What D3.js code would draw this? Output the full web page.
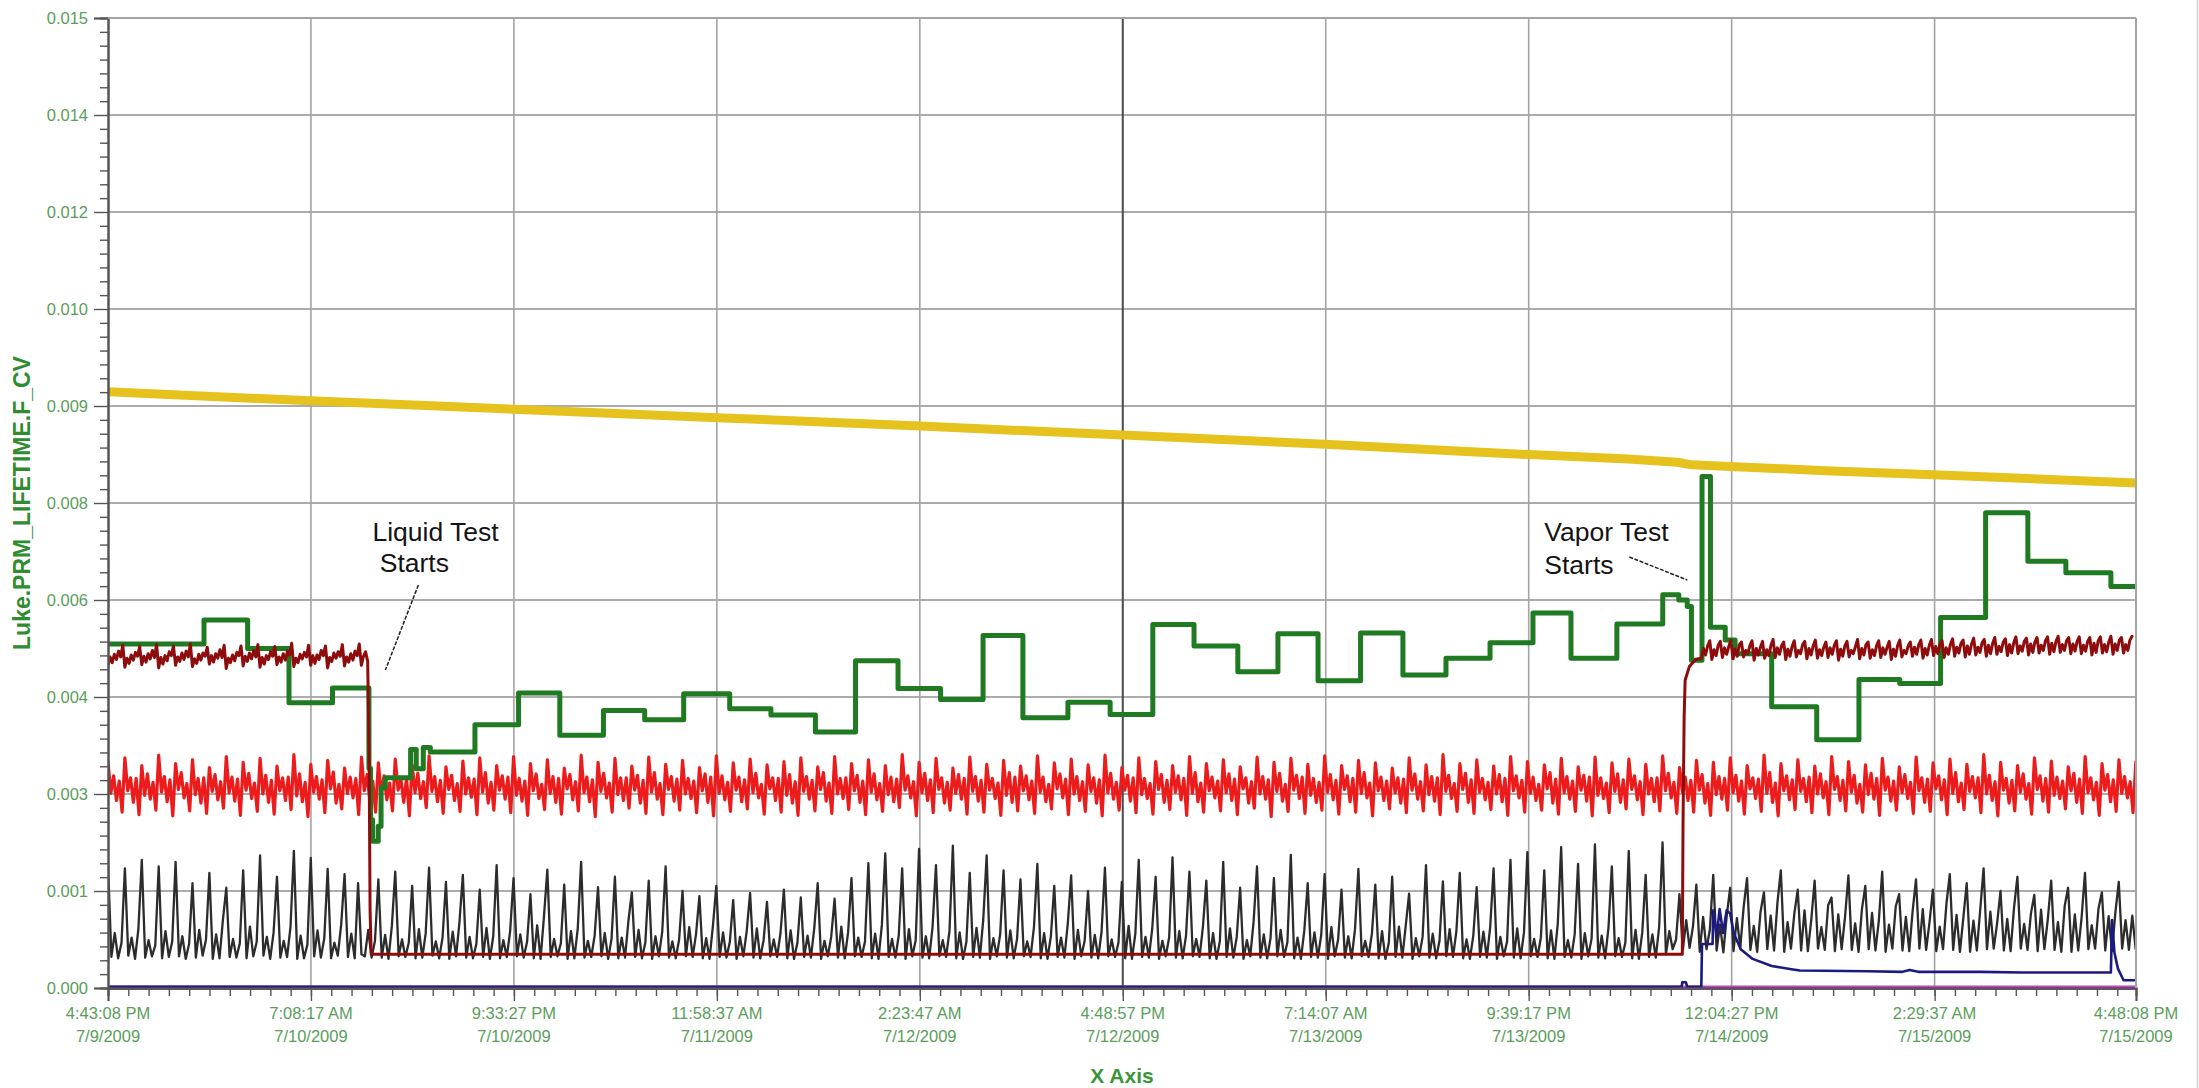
<!DOCTYPE html>
<html><head><meta charset="utf-8">
<script src="https://cdn.jsdelivr.net/npm/d3@7"></script>
<style>
body{margin:0;background:#fff}
svg{display:block}
text{font-family:"Liberation Sans",Arial,sans-serif}
</style>
</head><body>
<svg id="chart" width="2199" height="1088"></svg>
<script>
// ---------------- data ----------------
const START_TIME = "2009-07-09 16:43:08";
const END_TIME   = "2009-07-15 16:48:08";

const xTickTimes = ["2009-07-09 16:43:08","2009-07-10 07:08:17","2009-07-10 21:33:27","2009-07-11 11:58:37",
  "2009-07-12 02:23:47","2009-07-12 16:48:57","2009-07-13 07:14:07","2009-07-13 21:39:17",
  "2009-07-14 12:04:27","2009-07-15 02:29:37","2009-07-15 16:48:08"];
const xTickLabelTime = ["4:43:08 PM","7:08:17 AM","9:33:27 PM","11:58:37 AM","2:23:47 AM","4:48:57 PM",
  "7:14:07 AM","9:39:17 PM","12:04:27 PM","2:29:37 AM","4:48:08 PM"];
const xTickLabelDate = ["7/9/2009","7/10/2009","7/10/2009","7/11/2009","7/12/2009","7/12/2009",
  "7/13/2009","7/13/2009","7/14/2009","7/15/2009","7/15/2009"];

const yTickValues = [0,0.0015,0.003,0.0045,0.006,0.0075,0.009,0.0105,0.012,0.0135,0.015];
const yTickLabels = ["0.000","0.001","0.003","0.004","0.006","0.008","0.009","0.010","0.012","0.014","0.015"];

const yAxisTitle = "Luke.PRM_LIFETIME.F_CV";
const xAxisTitle = "X Axis";

// series: times as hours since START_TIME, values in units of 1e-3
const VALUE_UNIT = 1e-3;

const yellowHours = [0,14.4,28.8,43.3,57.7,72.1,86.5,97.9,108.0,111.5,112.5,122.0,130.6,144.083];
const yellowVals  = [9.22,9.08,8.95,8.82,8.69,8.55,8.41,8.28,8.18,8.13,8.09,8.00,7.93,7.81];

const greenHours = [0,6.82,9.92,12.86,15.95,18.54,18.65,18.8,19.2,19.4,19.7,21.5,21.9,22.4,22.9,26.07,29.17,32.10,35.2,38.13,
  40.9,44.17,47.1,50.26,53.11,56.13,59.15,62.17,65.0,68.2,71.2,74.23,77.16,80.27,83.12,85.97,88.99,92.0,95.06,98.19,
  101.24,103.94,107.2,110.46,111.6,112.2,112.5,113.25,113.85,114.9,115.6,118.2,121.4,124.4,127.3,130.2,133.4,136.4,139.1,142.3,144.083];
const greenVals = [5.32,5.69,5.25,4.41,4.64,3.40,2.60,2.27,2.50,3.10,3.25,3.69,3.39,3.72,3.65,4.07,4.56,3.91,4.29,4.15,
  4.55,4.32,4.22,3.96,5.06,4.63,4.46,5.45,4.18,4.42,4.23,5.62,5.29,4.89,5.48,4.75,5.49,4.84,5.10,5.34,
  5.80,5.10,5.63,6.08,6.00,5.90,5.07,7.91,5.58,5.38,5.17,4.35,3.84,4.77,4.71,5.73,7.35,6.60,6.42,6.21,6.21];

const redStepHours = 0.2001;
const redVals = [
3.50,3.01,3.28,2.90,3.20,2.72,3.56,3.05,3.25,2.87,3.24,2.68,3.44,2.98,3.31,2.92,3.18,2.75,3.60,3.03,3.27,2.88,3.22,2.66,
3.47,3.07,3.33,2.94,3.16,2.74,3.53,2.99,3.24,2.86,3.25,2.70,3.41,3.04,3.30,2.91,3.19,2.78,3.58,3.02,3.26,2.89,3.23,2.67,
3.49,3.06,3.32,2.93,3.17,2.73,3.55,3.00,3.29,2.87,3.21,2.69,3.43,3.05,3.25,2.90,3.26,2.76,3.61,2.97,3.31,2.88,3.18,2.65,
3.46,3.03,3.27,2.92,3.22,2.71,3.52,3.08,3.34,2.86,3.15,2.77,3.40,3.01,3.26,2.94,3.24,2.68,3.57,3.05,3.30,2.89,3.20,2.72,
3.48,2.99,3.28,2.91,3.17,2.74,3.54,3.06,3.23,2.87,3.25,2.66,3.45,3.02,3.32,2.93,3.19,2.79,3.59,3.04,3.27,2.88,3.21,2.70,
3.42,3.07,3.29,2.90,3.16,2.73,3.51,3.00,3.25,2.95,3.23,2.68,3.56,3.03,3.33,2.86,3.18,2.75,3.44,3.06,3.28,2.92,3.26,2.71,
3.58,2.98,3.24,2.89,3.20,2.67,3.47,3.05,3.31,2.93,3.15,2.76,3.53,3.01,3.27,2.87,3.24,2.69,3.40,3.08,3.30,2.91,3.19,2.74,
3.60,3.02,3.26,2.88,3.22,2.65,3.49,3.04,3.32,2.94,3.17,2.72,3.55,2.99,3.25,2.90,3.25,2.78,3.43,3.06,3.29,2.86,3.21,2.70,
3.57,3.03,3.33,2.92,3.16,2.68,3.46,3.07,3.27,2.89,3.23,2.75,3.52,3.00,3.24,2.93,3.20,2.71,3.41,3.05,3.31,2.87,3.26,2.66,
3.59,3.01,3.28,2.91,3.18,2.73,3.48,3.06,3.26,2.88,3.22,2.77,3.54,3.02,3.32,2.94,3.15,2.69,3.45,3.08,3.25,2.90,3.24,2.72,
3.50,2.98,3.30,2.86,3.19,2.67,3.56,3.04,3.27,2.92,3.21,2.74,3.42,3.07,3.33,2.89,3.17,2.70,3.58,3.00,3.24,2.93,3.25,2.76,
3.47,3.05,3.29,2.87,3.20,2.68,3.53,3.03,3.31,2.91,3.16,2.73,3.44,2.99,3.26,2.88,3.23,2.79,3.61,3.06,3.28,2.94,3.19,2.66,
3.49,3.02,3.32,2.90,3.22,2.71,3.55,3.07,3.25,2.86,3.18,2.75,3.40,3.01,3.30,2.92,3.24,2.69,3.57,3.04,3.27,2.89,3.21,2.72,
3.46,3.06,3.24,2.93,3.17,2.67,3.52,2.98,3.33,2.87,3.26,2.74,3.43,3.05,3.28,2.91,3.20,2.70,3.59,3.03,3.26,2.88,3.15,2.77,
3.48,3.08,3.31,2.94,3.23,2.68,3.54,3.00,3.27,2.90,3.19,2.73,3.45,3.04,3.25,2.86,3.22,2.66,3.60,3.02,3.32,2.92,3.18,2.75,
3.41,3.06,3.29,2.89,3.25,2.71,3.56,2.99,3.24,2.93,3.16,2.69,3.50,3.07,3.30,2.87,3.21,2.76,3.44,3.03,3.28,2.91,3.24,2.67,
3.58,3.01,3.33,2.88,3.17,2.72,3.47,3.05,3.26,2.94,3.20,2.74,3.53,3.02,3.31,2.90,3.23,2.68,3.42,3.08,3.25,2.86,3.19,2.78,
3.57,3.00,3.27,2.92,3.22,2.65,3.49,3.04,3.32,2.89,3.15,2.73,3.55,3.06,3.29,2.93,3.26,2.70,3.46,2.98,3.24,2.87,3.18,2.75,
3.59,3.03,3.30,2.91,3.21,2.69,3.44,3.07,3.28,2.88,3.24,2.72,3.52,3.01,3.33,2.94,3.17,2.66,3.48,3.05,3.26,2.90,3.20,2.77,
3.40,3.02,3.25,2.86,3.23,2.71,3.56,3.06,3.31,2.92,3.19,2.74,3.45,2.99,3.27,2.89,3.25,2.68,3.61,3.04,3.29,2.93,3.16,2.73,
3.47,3.07,3.32,2.87,3.22,2.70,3.53,3.03,3.24,2.91,3.18,2.76,3.43,3.00,3.30,2.88,3.24,2.67,3.58,3.05,3.28,2.94,3.21,2.72,
3.50,3.01,3.26,2.90,3.15,2.75,3.45,3.08,3.33,2.86,3.23,2.69,3.55,3.02,3.27,2.92,3.20,2.73,3.42,3.06,3.29,2.89,3.26,2.66,
3.57,2.98,3.25,2.93,3.17,2.71,3.48,3.04,3.31,2.87,3.22,2.77,3.54,3.07,3.28,2.91,3.19,2.68,3.46,3.00,3.24,2.88,3.25,2.74,
3.59,3.05,3.32,2.94,3.18,2.70,3.41,3.03,3.26,2.90,3.21,2.72,3.52,3.06,3.30,2.86,3.16,2.67,3.49,2.99,3.27,2.92,3.24,2.75,
3.56,3.02,3.29,2.89,3.20,2.69,3.44,3.08,3.25,2.93,3.23,2.73,3.60,3.01,3.33,2.87,3.17,2.66,3.47,3.05,3.28,2.91,3.22,2.76,
3.53,3.04,3.24,2.88,3.26,2.71,3.43,3.00,3.31,2.94,3.19,2.68,3.58,3.07,3.27,2.90,3.21,2.74,3.50,3.03,3.29,2.86,3.15,2.72,
3.45,2.99,3.32,2.92,3.24,2.67,3.55,3.06,3.26,2.89,3.20,2.75,3.42,3.02,3.30,2.93,3.18,2.70,3.57,3.05,3.25,2.87,3.23,2.73,
3.48,3.08,3.28,2.91,3.22,2.68,3.54,3.01,3.33,2.88,3.17,2.76,3.46,3.04,3.27,2.94,3.25,2.71,3.61,3.00,3.29,2.90,3.19,2.66,
3.49,3.06,3.24,2.86,3.21,2.74,3.44,3.03,3.31,2.92,3.16,2.69,3.56,3.07,3.28,2.89,3.24,2.72,3.51,2.98,3.26,2.93,3.20,2.77,
3.42,3.05,3.32,2.87,3.23,2.70,3.58,3.02,3.25,2.91,3.18,2.67,3.47,3.06,3.30,2.88,3.22,2.73,3.53,3.01,3.27,2.94,3.19,2.71,
3.50];

const blackStepHours = 0.2401;
const blackVals = [
1.92,0.48,0.85,0.46,0.70,1.85,0.50,0.78,0.45,0.92,1.98,0.47,0.74,0.49,0.66,1.88,0.46,0.88,0.48,0.72,1.95,0.49,0.80,0.45,0.68,1.62,0.47,0.90,0.50,0.75,1.78,0.45,0.83,0.46,1.05,1.55,0.48,0.76,0.47,0.69,
1.82,0.46,0.95,0.49,0.71,2.05,0.50,0.79,0.45,0.86,1.72,0.47,0.73,0.48,0.94,2.12,0.45,0.81,0.46,0.67,2.01,0.49,0.89,0.47,0.77,1.84,0.46,0.70,0.50,0.98,1.76,0.48,0.84,0.46,1.62,0.52,0.49,0.90,0.47,0.73,
1.68,0.47,0.82,0.45,0.96,1.80,0.49,0.75,0.48,0.70,1.58,0.46,0.91,0.47,0.84,1.86,0.50,0.72,0.46,0.78,1.64,0.45,0.87,0.49,1.02,1.75,0.47,0.79,0.46,0.68,1.52,0.48,0.93,0.45,0.80,1.90,0.46,0.74,0.48,0.88,
1.70,0.49,0.83,0.47,0.71,1.45,0.46,0.97,0.45,1.10,1.83,0.48,0.76,0.49,0.69,1.60,0.45,0.88,0.46,0.92,1.95,0.47,0.73,0.48,0.81,1.56,0.49,0.85,0.45,0.76,1.72,0.46,0.78,0.47,1.04,1.48,0.48,0.90,0.46,0.70,
1.66,0.45,0.80,0.49,0.87,1.88,0.47,0.72,0.46,0.75,1.50,0.49,0.94,0.48,0.83,1.42,0.46,0.77,0.45,0.96,1.58,0.48,0.86,0.47,0.71,1.36,0.45,0.79,0.49,0.88,1.47,0.47,0.92,0.46,0.74,1.33,0.49,0.75,0.48,0.85,
1.52,0.46,0.89,0.45,0.70,1.40,0.48,0.81,0.47,0.93,1.62,0.45,0.73,0.49,0.79,1.38,0.47,0.95,0.46,0.86,1.70,0.49,0.78,0.48,0.72,1.93,0.46,0.84,0.45,0.98,2.08,0.48,0.76,0.47,0.82,1.85,0.45,0.91,0.49,0.74,
2.15,0.47,0.80,0.46,0.95,1.90,0.49,0.74,0.48,0.88,2.20,0.46,0.86,0.45,0.71,1.78,0.48,0.93,0.47,1.06,2.05,0.45,0.77,0.49,0.83,1.82,0.47,0.89,0.46,0.76,1.68,0.49,0.72,0.48,0.94,1.92,0.46,0.85,0.45,0.80,
1.58,0.48,0.78,0.47,0.99,1.74,0.45,0.90,0.49,0.73,1.50,0.47,0.82,0.46,0.87,1.86,0.49,0.75,0.48,0.70,1.64,0.46,0.96,0.45,0.84,1.98,0.48,0.79,0.47,0.92,1.72,0.45,0.73,0.49,0.78,2.02,0.47,0.88,0.46,0.81,
1.80,0.49,0.76,0.48,0.95,1.66,0.46,0.85,0.45,0.72,1.95,0.48,0.92,0.47,0.79,1.55,0.45,0.74,0.49,1.03,1.88,0.47,0.83,0.46,0.77,1.70,0.49,0.90,0.48,0.71,2.06,0.46,0.78,0.45,0.89,1.62,0.48,0.86,0.47,0.82,
1.76,0.45,0.94,0.49,0.75,1.52,0.47,0.80,0.46,0.91,1.84,0.49,0.73,0.48,0.84,1.60,0.46,0.88,0.45,0.70,1.72,0.48,0.95,0.47,0.96,1.46,0.45,0.77,0.49,0.79,1.90,0.47,0.84,0.46,0.73,1.65,0.49,0.91,0.48,0.88,
1.78,0.46,0.75,0.45,0.81,1.56,0.48,0.87,0.47,0.94,1.85,0.45,0.79,0.49,0.72,1.98,0.47,0.92,0.46,0.86,2.10,0.49,0.76,0.48,0.78,1.82,0.46,0.89,0.45,1.00,2.18,0.48,0.74,0.47,0.83,1.92,0.45,0.85,0.49,0.76,
2.22,0.47,0.81,0.46,0.93,1.88,0.49,0.77,0.48,0.70,2.12,0.46,0.90,0.45,0.86,1.75,0.48,0.83,0.47,0.95,2.25,0.52,0.88,0.60,0.75,1.45,0.58,1.05,0.62,0.95,1.60,0.56,1.10,0.60,0.90,1.75,0.58,0.98,0.55,1.12,
1.55,0.57,1.08,0.62,1.25,1.70,0.59,0.96,0.56,1.18,1.48,0.60,1.12,0.58,1.32,1.82,0.56,1.02,0.61,1.15,1.52,0.58,1.20,0.57,1.05,1.66,0.61,0.94,0.59,1.28,1.40,0.57,1.14,0.60,1.10,1.74,0.59,1.00,0.56,1.22,
1.58,0.60,1.16,0.58,1.04,1.80,0.56,0.98,0.61,1.26,1.45,0.58,1.10,0.57,1.19,1.68,0.61,1.22,0.59,1.02,1.52,0.57,0.95,0.60,1.30,1.76,0.59,1.13,0.56,1.08,1.62,0.56,1.04,0.58,1.21,1.85,0.60,1.18,0.61,1.00,
1.50,0.58,1.07,0.57,1.24,1.72,0.61,0.99,0.59,1.15,1.44,0.57,1.21,0.60,1.06,1.66,0.59,1.02,0.56,1.27,1.55,0.56,1.14,0.58,1.09,1.78,0.60,0.97,0.61,1.23,1.48,0.58,1.11,0.57,1.17,1.64,0.61,1.05,0.59,1.12,
0.60];

const maroonPreStepHours = 0.15;
const maroonPreVals = [
4.98,5.12,5.03,5.16,5.08,5.21,5.12,5.30,4.96,5.10,5.02,5.15,5.07,5.19,5.13,5.28,5.00,5.13,5.04,5.17,5.09,5.22,5.11,5.31,
4.95,5.11,5.01,5.14,5.06,5.20,5.14,5.29,4.99,5.12,5.05,5.18,5.08,5.21,5.12,5.32,4.97,5.09,5.02,5.16,5.07,5.18,5.13,5.27,
5.01,5.14,5.04,5.17,5.10,5.23,5.11,5.30,4.94,5.10,5.03,5.15,5.06,5.19,5.14,5.29,4.98,5.13,5.05,5.18,5.09,5.22,5.12,5.31,
4.96,5.11,5.01,5.14,5.08,5.20,5.13,5.28,5.00,5.12,5.04,5.17,5.07,5.21,5.15,5.33,4.97,5.10,5.03,5.16,5.09,5.19,5.12,5.30,
4.99,5.14,5.02,5.15,5.08,5.22,5.14,5.29,4.95,5.11,5.05,5.18,5.10,5.20,5.13,5.31,4.98,5.12,5.04,5.17,5.07,5.21,5.14,5.32,
4.99,5.13,5.20];
const maroonLinkHours = [18.45,18.55,18.62,18.7,111.85,111.9,111.98,112.05,112.35,112.8];
const maroonLinkVals  = [5.05,3.60,1.20,0.52,0.52,2.50,4.20,4.76,4.97,5.08];
const maroonPostStartHour = 113.2, maroonPostStepHours = 0.15;
const maroonPostVals = [
5.10,5.25,5.15,5.29,5.37,5.08,5.23,5.14,5.30,5.36,5.11,5.26,5.16,5.28,5.38,5.09,5.24,5.13,5.31,5.35,
5.12,5.22,5.17,5.29,5.37,5.07,5.25,5.15,5.27,5.36,5.10,5.23,5.14,5.30,5.39,5.11,5.26,5.16,5.29,5.35,
5.08,5.24,5.13,5.28,5.37,5.12,5.22,5.17,5.31,5.36,5.09,5.25,5.15,5.29,5.38,5.10,5.23,5.14,5.27,5.35,
5.11,5.26,5.16,5.30,5.37,5.07,5.24,5.13,5.29,5.36,5.12,5.22,5.17,5.28,5.39,5.09,5.25,5.15,5.31,5.35,
5.10,5.23,5.14,5.29,5.37,5.11,5.26,5.16,5.27,5.36,5.08,5.24,5.13,5.30,5.38,5.12,5.22,5.17,5.29,5.35,
5.13,5.27,5.16,5.31,5.38,5.10,5.25,5.15,5.30,5.39,5.14,5.28,5.17,5.32,5.37,5.11,5.26,5.16,5.31,5.40,
5.13,5.27,5.18,5.33,5.38,5.12,5.29,5.16,5.32,5.41,5.15,5.27,5.19,5.34,5.39,5.13,5.30,5.17,5.33,5.42,
5.16,5.28,5.20,5.35,5.40,5.14,5.31,5.18,5.34,5.43,5.17,5.29,5.21,5.36,5.41,5.15,5.32,5.19,5.35,5.42,
5.18,5.30,5.22,5.37,5.43,5.16,5.33,5.20,5.36,5.44,5.19,5.31,5.22,5.37,5.42,5.17,5.32,5.21,5.36,5.43,
5.17,5.30,5.21,5.36,5.42,5.15,5.33,5.19,5.37,5.43,5.18,5.31,5.20,5.35,5.44,5.16,5.32,5.22,5.38,5.42,
5.18,5.31,5.22,5.38,5.44];

const navyHours = [0,111.8,111.85,112.1,112.2,113.2,113.25,114.0,114.05,114.3,114.5,114.75,115.0,115.25,115.5,116.0,116.85,118.2,119.6,120.2,
  125.0,127.5,128.0,128.6,133.0,136.0,142.3,142.38,142.55,142.8,143.2,144.083];
const navyVals = [0.02,0.02,0.09,0.09,0.02,0.02,0.68,0.68,1.20,0.80,1.22,0.85,1.20,1.15,0.85,0.60,0.45,0.34,0.29,0.27,
  0.26,0.25,0.28,0.25,0.25,0.24,0.24,1.05,0.55,0.30,0.12,0.12];

const magentaHours = [0,144.083];
const magentaVals  = [0,0];

const liquidTestHour = 18.5, vaporTestHour = 111.85;
const annotations = [
  {hour: liquidTestHour, lines: ["Liquid Test", " Starts"]},
  {hour: vaporTestHour,  lines: ["Vapor Test", "Starts"]}
];

// ---------------- drawing ----------------
const W = 2199, H = 1088;
const M = {left:108, right:2136, top:18, bottom:988};
const parse = d3.timeParse("%Y-%m-%d %H:%M:%S");
const t0 = parse(START_TIME), t1 = parse(END_TIME);
const toDate = h => new Date(t0.getTime() + h*3600000);

const x = d3.scaleTime().domain([t0,t1]).range([M.left,M.right]);
const y = d3.scaleLinear().domain([0,0.015]).range([M.bottom,M.top]);

const svg = d3.select("#chart");
svg.append("rect").attr("width",W).attr("height",H).attr("fill","#fff");

const xt = xTickTimes.map(parse);

// gridlines
const grid = svg.append("g");
grid.selectAll("line.h").data(yTickValues.slice(1)).join("line")
  .attr("x1",M.left).attr("x2",M.right).attr("y1",d=>y(d)).attr("y2",d=>y(d))
  .attr("stroke","#acacac").attr("stroke-width",2);
grid.selectAll("line.v").data(xt.slice(1)).join("line")
  .attr("x1",d=>x(d)).attr("x2",d=>x(d)).attr("y1",M.top).attr("y2",M.bottom)
  .attr("stroke",(d,i)=> i===4 ? "#4a4a4a" : "#a4a4a4")
  .attr("stroke-width",(d,i)=> i===4 ? 2 : 1.6);
// right border of screenshot
svg.append("line").attr("x1",W-1.5).attr("x2",W-1.5).attr("y1",0).attr("y2",H)
  .attr("stroke","#cfcfcf").attr("stroke-width",1.5);

// series
svg.append("clipPath").attr("id","clip").append("rect")
  .attr("x",M.left).attr("y",M.top-6).attr("width",M.right-M.left).attr("height",M.bottom-M.top+8);
const plot = svg.append("g").attr("clip-path","url(#clip)");

const pts = (hours, vals) => hours.map((h,i)=>({t:toDate(h), v:vals[i]*VALUE_UNIT}));
const uni = (start, step, vals) => vals.map((v,i)=>({t:toDate(start+i*step), v:v*VALUE_UNIT}));

const line = d3.line().x(d=>x(d.t)).y(d=>y(d.v));
const stepLine = d3.line().x(d=>x(d.t)).y(d=>y(d.v)).curve(d3.curveStepAfter);

const redData = uni(0, redStepHours, redVals);
const blackData = uni(0, blackStepHours, blackVals);
const yellowData = pts(yellowHours, yellowVals);
const greenData = pts(greenHours, greenVals);
const maroonData = uni(0, maroonPreStepHours, maroonPreVals)
  .concat(pts(maroonLinkHours, maroonLinkVals))
  .concat(uni(maroonPostStartHour, maroonPostStepHours, maroonPostVals));
const navyData = pts(navyHours, navyVals);
const magentaData = pts(magentaHours, magentaVals);

function draw(data, gen, color, width){
  plot.append("path").datum(data).attr("d",gen).attr("fill","none")
    .attr("stroke",color).attr("stroke-width",width)
    .attr("stroke-linejoin","round").attr("stroke-linecap","round");
}
draw(redData, line, "#ec1c1c", 3.2);
draw(blackData, line, "#2c2c2c", 2.3);
draw(yellowData, line, "#e6c21f", 9);
draw(greenData, stepLine, "#1f7a22", 5);
draw(maroonData, line, "#8e0c0c", 3);
draw(magentaData, line, "#c63fc6", 5);
draw(navyData, line, "#1a1a80", 2.6);

// axes
const axisColor = "#555";
const yMinor = d3.range(0,71).filter(k=>k%7!==0).map(k=>k*0.0015/7);
const yAxisMinor = svg.append("g").attr("transform",`translate(${M.left},0)`)
  .call(d3.axisLeft(y).tickValues(yMinor).tickSize(8).tickFormat(""));
const yAxis = svg.append("g").attr("transform",`translate(${M.left},0)`)
  .call(d3.axisLeft(y).tickValues(yTickValues).tickSize(14).tickPadding(6).tickFormat((d,i)=>yTickLabels[i]));

const interval = (xt[9]-xt[1])/8;
const xMinor = [];
for (let k=0; xt[0].getTime()+k*interval/10 <= t1.getTime()+1000; k++) xMinor.push(new Date(xt[0].getTime()+k*interval/10));
const xAxisMinor = svg.append("g").attr("transform",`translate(0,${M.bottom})`)
  .call(d3.axisBottom(x).tickValues(xMinor).tickSize(8).tickFormat(""));
const xAxis = svg.append("g").attr("transform",`translate(0,${M.bottom})`)
  .call(d3.axisBottom(x).tickValues(xt).tickSize(13).tickFormat(""));

[yAxisMinor,yAxis,xAxisMinor,xAxis].forEach(g=>{
  g.select(".domain").attr("stroke",axisColor).attr("stroke-width",2);
  g.selectAll(".tick line").attr("stroke",axisColor).attr("stroke-width",1.4);
});
yAxis.selectAll(".tick text").attr("fill","#5a9e5a").attr("font-size","16.5px")
  .attr("font-family","'Liberation Sans',Arial,sans-serif");

// top and right border
svg.append("line").attr("x1",M.left).attr("x2",M.right).attr("y1",M.top).attr("y2",M.top)
  .attr("stroke","#a4a4a4").attr("stroke-width",2);
svg.append("line").attr("x1",M.right).attr("x2",M.right).attr("y1",M.top).attr("y2",M.bottom)
  .attr("stroke","#a4a4a4").attr("stroke-width",2);

// x tick labels (two lines)
const xl = svg.append("g").attr("fill","#5a9e5a").attr("font-size","16.5px").attr("text-anchor","middle");
xt.forEach((t,i)=>{
  const tx = xl.append("text");
  tx.append("tspan").attr("x",x(t)).attr("y",1019).text(xTickLabelTime[i]);
  tx.append("tspan").attr("x",x(t)).attr("y",1042).text(xTickLabelDate[i]);
});

// axis titles
svg.append("text").attr("x",(M.left+M.right)/2).attr("y",1083).attr("text-anchor","middle")
  .attr("fill","#3a963a").attr("font-weight","bold").attr("font-size","21px").text(xAxisTitle);
svg.append("text").attr("transform",`translate(22,${(M.top+M.bottom)/2}) rotate(-90)`)
  .attr("text-anchor","middle").attr("dominant-baseline","central")
  .attr("fill","#2f8c2f").attr("font-weight","bold").attr("font-size","23px").text(yAxisTitle);

// annotations
const ann = svg.append("g").attr("fill","#141414").attr("font-size","26.5px");
const a0 = annotations[0], ax0 = x(toDate(a0.hour));
ann.append("text").attr("x",ax0+4).attr("y",541).attr("xml:space","preserve").text(a0.lines[0]);
ann.append("text").attr("x",ax0+4).attr("y",572).attr("xml:space","preserve").text(a0.lines[1]);
svg.append("line").attr("x1",ax0+50).attr("y1",585).attr("x2",ax0+17).attr("y2",670)
  .attr("stroke","#222").attr("stroke-width",1.5).attr("stroke-dasharray","4,1.5");
const a1 = annotations[1], ax1 = x(toDate(a1.hour));
ann.append("text").attr("x",ax1-138).attr("y",541).text(a1.lines[0]);
ann.append("text").attr("x",ax1-138).attr("y",574).text(a1.lines[1]);
svg.append("line").attr("x1",ax1-53).attr("y1",557).attr("x2",ax1+5).attr("y2",580)
  .attr("stroke","#222").attr("stroke-width",1.5).attr("stroke-dasharray","4,1.5");
</script>
</body></html>
